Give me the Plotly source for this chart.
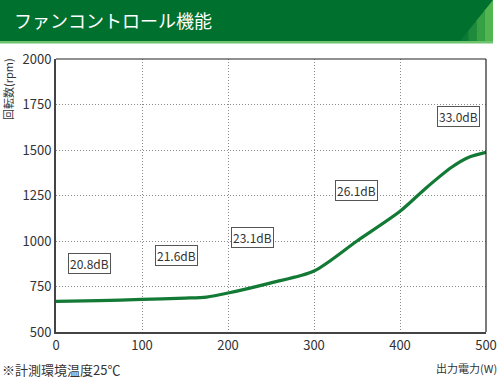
import plotly.graph_objects as go

# data
power_w = [0, 50, 100, 150, 175, 200, 250, 300, 350, 400, 430, 460, 480, 500]
fan_rpm = [668, 672, 679, 686, 692, 714, 770, 835, 1000, 1163, 1290, 1405, 1460, 1487]

label_text = ["20.8dB", "21.6dB", "23.1dB", "26.1dB", "33.0dB"]
label_x = [39, 140, 229, 349, 468]
label_y = [875, 919, 1022, 1275, 1685]

x_ticks = [0, 100, 200, 300, 400, 500]
y_ticks = [500, 750, 1000, 1250, 1500, 1750, 2000]

W, H = 500, 378
L, R, T, B = 56, 14, 59, 46
PW, PH = W - L - R, H - T - B

def px(x):
    return (x - L) / PW

def py(y):
    return (H - B - y) / PH

FONT = "Noto Sans CJK JP"
GREEN = "#00702f"

fig = go.Figure()
fig.add_trace(go.Scatter(
    x=power_w, y=fan_rpm, mode="lines",
    line=dict(color="#137a36", width=3.2, shape="spline", smoothing=0.8),
    hoverinfo="skip", showlegend=False, cliponaxis=False,
))

shapes = []
# title bar
shapes.append(dict(type="rect", xref="paper", yref="paper", layer="above",
                   x0=px(0), x1=px(493), y0=py(41), y1=py(0),
                   fillcolor=GREEN, line=dict(width=0)))
# gradient-ish triangle at right end
steps = [("#0b7a34", 0.0), ("#1e8a3c", 0.25), ("#36a044", 0.5), ("#52b650", 0.75)]
for c, f in steps:
    xa = 460 + f * 33
    xb = 460 + (f + 0.25) * 33
    ya = 41 - (xa - 460) * 41 / 33
    yb = 41 - (xb - 460) * 41 / 33
    path = (f"M {px(xa)},{py(41)} L {px(xb)},{py(41)} L {px(xb)},{py(yb)} "
            f"L {px(xa)},{py(ya)} Z")
    shapes.append(dict(type="path", xref="paper", yref="paper", layer="above",
                       path=path, fillcolor=c, line=dict(width=0)))
# light line under bar
shapes.append(dict(type="rect", xref="paper", yref="paper", layer="above",
                   x0=px(0), x1=px(493), y0=py(43.5), y1=py(41),
                   fillcolor="#6cc46c", line=dict(width=0)))
# top & right thin frame
shapes.append(dict(type="line", xref="paper", yref="paper",
                   x0=0, x1=1, y0=1, y1=1, line=dict(color="#222", width=1.2)))
shapes.append(dict(type="line", xref="paper", yref="paper",
                   x0=1, x1=1, y0=0, y1=1, line=dict(color="#222", width=1.2)))

annotations = []
for t, x, y in zip(label_text, label_x, label_y):
    annotations.append(dict(x=x, y=y, xref="x", yref="y", text=t, showarrow=False,
                            font=dict(family=FONT, size=12, color="#333"),
                            bordercolor="#555", borderwidth=1, borderpad=1,
                            bgcolor="white"))
annotations.append(dict(x=px(12), y=py(20), xref="paper", yref="paper",
                        text="ファンコントロール機能", showarrow=False,
                        xanchor="left", yanchor="middle",
                        font=dict(family=FONT, size=18, color="white")))
annotations.append(dict(x=px(8), y=py(89), xref="paper", yref="paper",
                        text="回転数(rpm)", showarrow=False, textangle=-90,
                        xanchor="center", yanchor="middle",
                        font=dict(family=FONT, size=11, color="#333")))
annotations.append(dict(x=px(499), y=py(368), xref="paper", yref="paper",
                        text="出力電力(W)", showarrow=False,
                        xanchor="right", yanchor="middle",
                        font=dict(family=FONT, size=11, color="#333")))
annotations.append(dict(x=px(0), y=py(369), xref="paper", yref="paper",
                        text="※計測環境温度25℃", showarrow=False,
                        xanchor="left", yanchor="middle",
                        font=dict(family=FONT, size=13, color="#333")))

axis_common = dict(ticks="", showgrid=True, gridcolor="#8a8a8a",
                   griddash="1px,2px", gridwidth=1, automargin=False,
                   showline=True, linecolor="#444", linewidth=2, zeroline=False,
                   tickfont=dict(family=FONT, size=13, color="#333"),
                   fixedrange=True)

fig.update_layout(
    width=W, height=H, margin=dict(l=L, r=R, t=T, b=B, autoexpand=False),
    paper_bgcolor="white", plot_bgcolor="white",
    shapes=shapes, annotations=annotations,
    xaxis=dict(range=[0, 500], tickvals=x_ticks, **axis_common),
    yaxis=dict(range=[500, 2000], tickvals=y_ticks, **axis_common),
)

fig.write_html("out.html", config={"displayModeBar": False},
               post_script="document.body.style.margin='0';document.body.style.padding='0';")
